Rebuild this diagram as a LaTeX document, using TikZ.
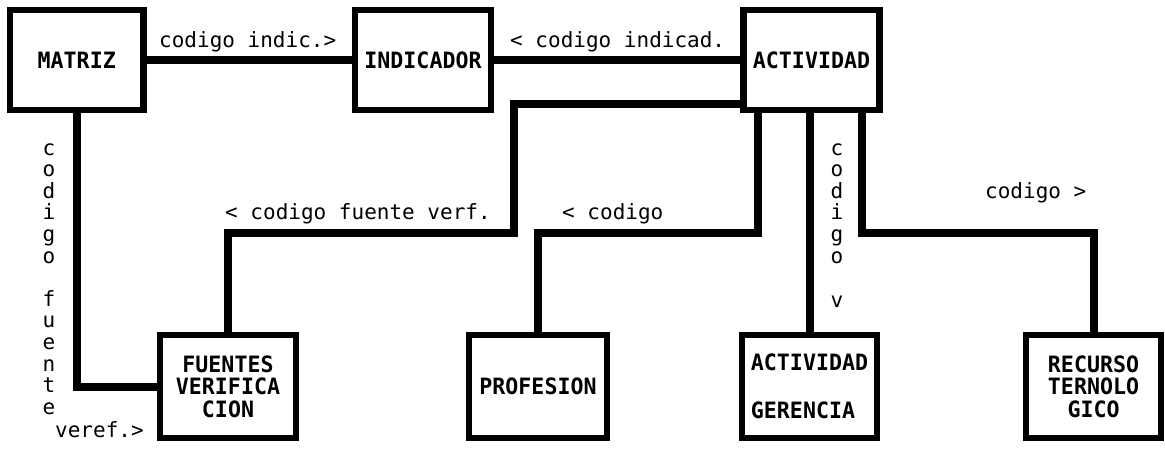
\documentclass[tikz,border=0pt]{standalone}
\usepackage{fontspec}
\newfontfamily\labfont{DejaVu Sans Mono}
\newfontfamily\boxfont{DejaVu Sans Mono}[FakeStretch=0.96]
\begin{document}
\begin{tikzpicture}[x=1pt,y=-1pt,
  ent/.style={draw=black,line width=6.5pt,outer sep=0pt,inner sep=0pt,
    align=center,font=\boxfont\bfseries\fontsize{22.5}{22.5}\selectfont},
  conn/.style={draw=black,line width=8pt,line join=miter},
  lab/.style={inner sep=0pt,anchor=base west,font=\labfont\fontsize{21}{21.6}\selectfont},
  vlab/.style={inner sep=0pt,anchor=base,font=\labfont\fontsize{21}{21.6}\selectfont}]
\useasboundingbox (0,0) rectangle (1165,448);
\fill[white] (0,0) rectangle (1165,448);
% entities
\node[ent,minimum width=133.5pt,minimum height=100pt] (matriz) at (76.75,60) {MATRIZ};
\node[ent,minimum width=136pt,minimum height=100pt] (indicador) at (423,60) {INDICADOR};
\node[ent,minimum width=136pt,minimum height=100pt] (actividad) at (811.5,60) {ACTIVIDAD};
\node[ent,minimum width=136pt,minimum height=103pt] (fuentes) at (228,386.5) {FUENTES\\VERIFICA\\CION};
\node[ent,minimum width=138pt,minimum height=103pt] (profesion) at (538,386.5) {PROFESION};
\node[ent,minimum width=135pt,minimum height=103pt,align=left] (gerencia) at (809.5,386.5) {ACTIVIDAD\\[25.5pt]GERENCIA};
\node[ent,minimum width=135pt,minimum height=103pt] (recurso) at (1093.5,386.5) {RECURSO\\TERNOLO\\GICO};
% bend points
\coordinate (b1) at (514,233);
\coordinate (b2) at (758,233);
\coordinate (b3) at (862,233);
% connectors
\draw[conn] (matriz.east) -- (indicador.west);
\draw[conn] (indicador.east) -- (actividad.west);
\draw[conn] ([yshift=-44pt]actividad.west) -| (b1) -| (fuentes.north);
\draw[conn] (matriz.south) |- (fuentes.west);
\draw[conn] (profesion.north) |- (b2) -- (b2 |- actividad.south);
\draw[conn] (gerencia.north) -- (gerencia.north |- actividad.south);
\draw[conn] (b3 |- actividad.south) -- (b3) -| (recurso.north);
% labels
\node[lab] (l1) at (159,47) {codigo indic.>};
\node[lab] (l2) at (510,47) {< codigo indicad.};
\node[lab] (l3) at (225,219) {< codigo fuente verf.};
\node[lab] (l4) at (562,219) {< codigo};
\node[lab] (l5) at (985,198) {codigo >};
\node[lab] (l6) at (55,437) {veref.>};
% vertical labels
\foreach \ch [count=\i from 0] in {c,o,d,i,g,o} {
  \node[vlab] (va\i) at (49,155+21.6*\i) {\ch};
  \node[vlab] (vc\i) at (837,155+21.6*\i) {\ch};
}
\foreach \ch [count=\i from 7] in {f,u,e,n,t,e} {
  \node[vlab] (vb\i) at (49,155+21.6*\i) {\ch};
}
\node[vlab] (vcv) at (837,307) {v};
\end{tikzpicture}
\end{document}
